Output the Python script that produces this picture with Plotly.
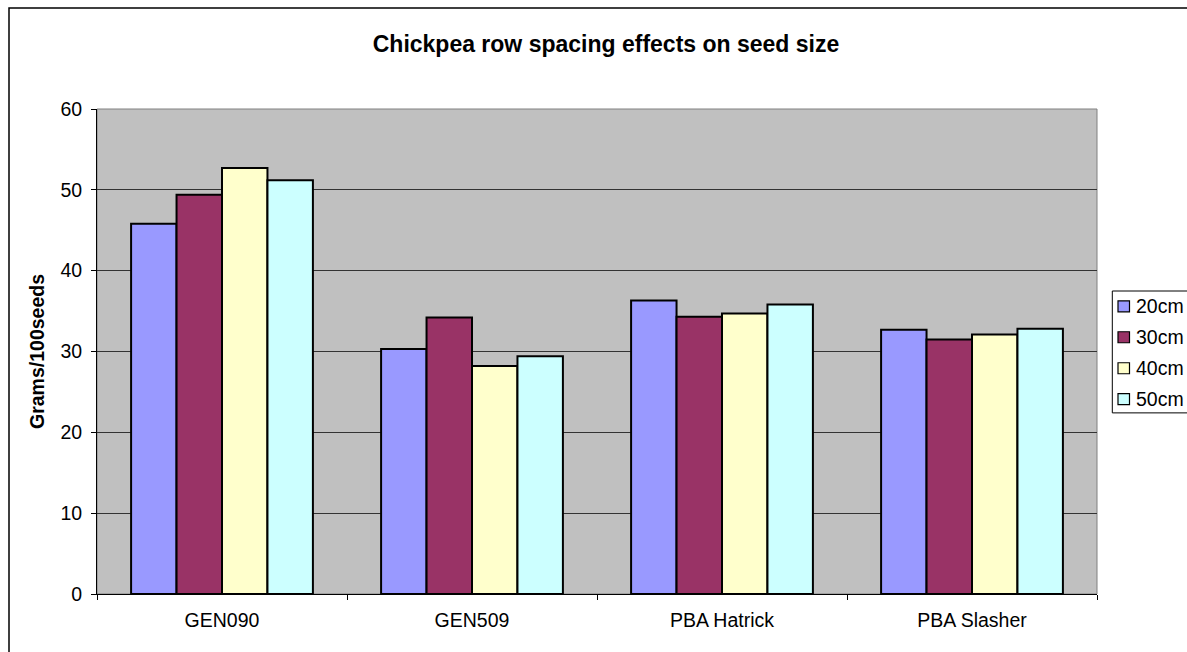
import plotly.graph_objects as go

categories = ["GEN090", "GEN509", "PBA Hatrick", "PBA Slasher"]
series_names = ["20cm", "30cm", "40cm", "50cm"]
s20 = [45.8, 30.3, 36.3, 32.7]
s30 = [49.4, 34.2, 34.3, 31.5]
s40 = [52.7, 28.2, 34.7, 32.1]
s50 = [51.2, 29.4, 35.8, 32.8]
colors = ["#9999FF", "#993366", "#FFFFCC", "#CCFFFF"]
y_ticks = [0, 10, 20, 30, 40, 50, 60]

FONT = "Arial, Liberation Sans, sans-serif"
W, H = 1187, 652
L, R, T, B = 97, 90, 108.5, 58
pw = W - L - R
ph = H - T - B


def px(x):
    return (x - L) / pw


def py(y):
    return (H - B - y) / ph


fig = go.Figure()
for name, vals, c in zip(series_names, [s20, s30, s40, s50], colors):
    fig.add_trace(go.Bar(x=categories, y=vals, name=name, showlegend=False,
                         marker=dict(color=c, line=dict(color="black", width=2))))

fig.update_layout(
    width=W, height=H,
    margin=dict(l=L, r=R, t=T, b=B),
    paper_bgcolor="white", plot_bgcolor="#C0C0C0",
    barmode="group", bargap=0.2727, bargroupgap=0,
    font=dict(family=FONT, size=19, color="black"),
    title=dict(text="<b>Chickpea row spacing effects on seed size</b>",
               x=606 / W, xanchor="center", xref="container",
               y=1 - 44 / H, yanchor="middle", yref="container",
               font=dict(family=FONT, size=23, color="black")),
    showlegend=False,
    xaxis=dict(type="category", showgrid=False, showline=True, linecolor="black", linewidth=1,
               ticks="outside", tickson="boundaries", ticklen=5, tickcolor="black",
               ticklabelstandoff=9,
               tickfont=dict(family=FONT, size=19.5)),
    yaxis=dict(range=[0, 60], tickvals=y_ticks, showgrid=True, gridcolor="#333333", gridwidth=1,
               showline=True, linecolor="black", linewidth=1, ticks="outside", ticklen=5,
               tickcolor="black", zeroline=False, ticklabelstandoff=5,
               tickfont=dict(family=FONT, size=19.5),
               title=dict(text="<b>Grams/100seeds</b>", font=dict(family=FONT, size=19.5), standoff=10)),
)

# plot area border (grey) and outer chart border
fig.add_shape(type="rect", xref="paper", yref="paper", x0=0, x1=1, y0=0, y1=1,
              line=dict(color="#808080", width=1), layer="below")
fig.add_shape(type="rect", xref="paper", yref="paper",
              x0=px(9), x1=px(W + 20), y0=py(H + 20), y1=py(7.5),
              line=dict(color="black", width=1.5))

# legend box with swatches and labels
leg_left, leg_top, leg_bottom = 1112.3, 290.7, 412.7
row0, row_step = 306, 31
fig.add_shape(type="rect", xref="paper", yref="paper",
              x0=px(leg_left), x1=px(W + 20), y0=py(leg_bottom), y1=py(leg_top),
              line=dict(color="black", width=1), fillcolor="white")
for i, (name, c) in enumerate(zip(series_names, colors)):
    yc = row0 + i * row_step
    fig.add_shape(type="rect", xref="paper", yref="paper",
                  x0=px(1118), x1=px(1129.5), y0=py(yc + 5.5), y1=py(yc - 5.5),
                  line=dict(color="black", width=1.2), fillcolor=c)
    fig.add_annotation(text=name, xref="paper", yref="paper", x=px(1134), y=py(yc),
                       xanchor="left", yanchor="middle", showarrow=False,
                       font=dict(family=FONT, size=19.5, color="black"))

fig.write_html("out.html")
